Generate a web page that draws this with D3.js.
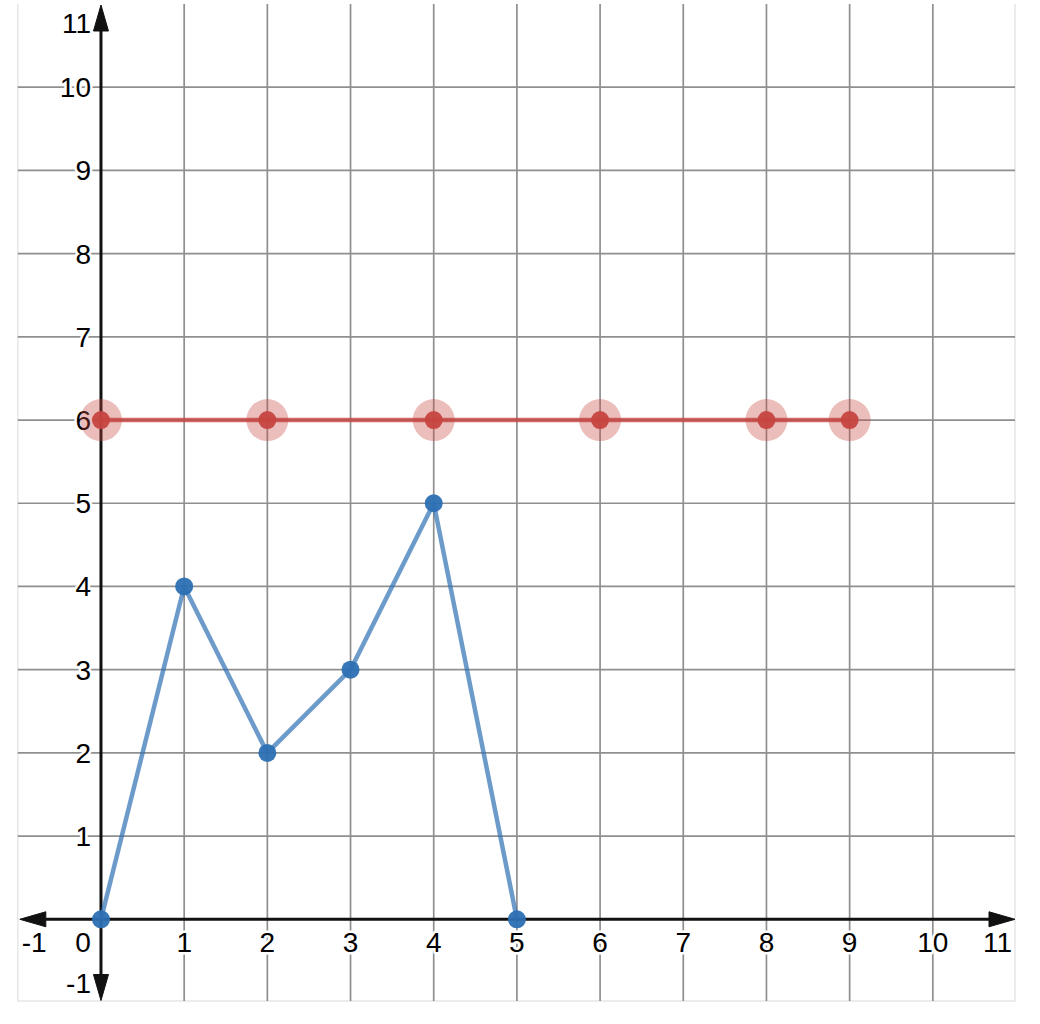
<!DOCTYPE html>
<html>
<head>
<meta charset="utf-8">
<script src="https://cdn.jsdelivr.net/npm/d3@7"></script>
<style>
  body { margin: 0; background: #fff; }
  text { font-family: Arial, "Liberation Sans", sans-serif; }
</style>
</head>
<body>
<svg id="chart" width="1040" height="1024"></svg>
<script>
// tick values on both axes
const xTicks = [-1, 0, 1, 2, 3, 4, 5, 6, 7, 8, 9, 10, 11];
const yTicks = [-1, 0, 1, 2, 3, 4, 5, 6, 7, 8, 9, 10, 11];

// blue series
const blueX = [0, 1, 2, 3, 4, 5];
const blueY = [0, 4, 2, 3, 5, 0];

// red series
const redX = [0, 2, 4, 6, 8, 9];
const redY = [6, 6, 6, 6, 6, 6];

const svg = d3.select("#chart");

let xScale = d3.scaleLinear().domain([-1, 11]).range([17.8, 1016]);
let yScale = d3.scaleLinear().domain([-1, 11]).range([1002.5, 4]);

const pLeft = xScale(-1), pRight = xScale(11);
const pTop = yScale(11), pBottom = yScale(-1);

// border of the plot area
svg.append("path")
    .attr("d", `M${pLeft},${pTop}V${pBottom - 1.5}H${pRight - 1}V${pTop}`)
    .attr("fill", "none")
    .attr("stroke", "#e6e6e6")
    .attr("stroke-width", 1.5);

// grid
let grid = svg.append("g").attr("stroke", "#8f8f8f").attr("stroke-width", 1.7);
grid.selectAll(".vx")
    .data(xTicks.filter(d => d > -1 && d < 11 && d != 0))
    .enter().append("line")
    .attr("x1", d => xScale(d)).attr("x2", d => xScale(d))
    .attr("y1", pTop).attr("y2", pBottom - 1.5);
grid.selectAll(".hy")
    .data(yTicks.filter(d => d > -1 && d < 11 && d != 0))
    .enter().append("line")
    .attr("y1", d => yScale(d)).attr("y2", d => yScale(d))
    .attr("x1", pLeft).attr("x2", pRight - 1);

const x0 = xScale(0), y0 = yScale(0);

// tick labels, kept inside the plot area
let labels = svg.append("g")
    .attr("font-size", 28)
    .attr("fill", "#000")
    .attr("stroke", "#fff")
    .attr("stroke-width", 5)
    .attr("stroke-linejoin", "round")
    .attr("paint-order", "stroke");

labels.selectAll(".xl")
    .data(xTicks.filter(d => d != 0))
    .enter().append("text")
    .attr("text-anchor", "middle")
    .attr("y", y0 + 33)
    .text(d => d)
    .attr("x", function (d) {
        let w = this.getComputedTextLength();
        return Math.max(pLeft + w / 2 + 4, Math.min(pRight - w / 2 - 4, xScale(d)));
    });

labels.append("text")
    .attr("text-anchor", "middle")
    .attr("x", x0 - 18)
    .attr("y", y0 + 33)
    .text("0");

labels.selectAll(".yl")
    .data(yTicks.filter(d => d != 0))
    .enter().append("text")
    .attr("text-anchor", "end")
    .attr("x", x0 - 10)
    .attr("y", d => Math.max(pTop + 19, Math.min(pBottom - 20, yScale(d))) + 10)
    .text(d => d);

// axes with arrowheads
const axisCol = "#111";
const aLen = 26, aHalf = 7.5;
let axes = svg.append("g");
axes.append("line")
    .attr("x1", pLeft + 2 + aLen).attr("x2", pRight - 1 - aLen)
    .attr("y1", y0).attr("y2", y0)
    .attr("stroke", axisCol).attr("stroke-width", 3);
axes.append("line")
    .attr("x1", x0).attr("x2", x0)
    .attr("y1", pTop + 1 + aLen).attr("y2", pBottom - 2 - aLen)
    .attr("stroke", axisCol).attr("stroke-width", 3);
let arrows = [
    [[pLeft + 2, y0], [pLeft + 2 + aLen, y0 - aHalf], [pLeft + 2 + aLen, y0 + aHalf]],
    [[pRight - 1, y0], [pRight - 1 - aLen, y0 - aHalf], [pRight - 1 - aLen, y0 + aHalf]],
    [[x0, pTop + 1], [x0 - aHalf, pTop + 1 + aLen], [x0 + aHalf, pTop + 1 + aLen]],
    [[x0, pBottom - 2], [x0 - aHalf, pBottom - 2 - aLen], [x0 + aHalf, pBottom - 2 - aLen]]
];
axes.selectAll("path")
    .data(arrows)
    .enter().append("path")
    .attr("d", d => "M" + d.join("L") + "Z")
    .attr("fill", axisCol)
    .attr("stroke", axisCol)
    .attr("stroke-width", 1)
    .attr("stroke-linejoin", "round");

const line = d3.line().x(d => xScale(d[0])).y(d => yScale(d[1]));

// red series
let redPts = redX.map((x, i) => [x, redY[i]]);
svg.append("path")
    .datum(redPts)
    .attr("d", line)
    .attr("fill", "none")
    .attr("stroke", "#c74440")
    .attr("stroke-opacity", 0.8)
    .attr("stroke-width", 4.5);
svg.append("g").selectAll("circle")
    .data(redPts)
    .enter().append("circle")
    .attr("cx", d => xScale(d[0])).attr("cy", d => yScale(d[1]))
    .attr("r", 21)
    .attr("fill", "#c74440")
    .attr("fill-opacity", 0.35);
svg.append("g").selectAll("circle")
    .data(redPts)
    .enter().append("circle")
    .attr("cx", d => xScale(d[0])).attr("cy", d => yScale(d[1]))
    .attr("r", 9)
    .attr("fill", "#c74440")
    .attr("fill-opacity", 0.95);

// blue series
let bluePts = blueX.map((x, i) => [x, blueY[i]]);
svg.append("path")
    .datum(bluePts)
    .attr("d", line)
    .attr("fill", "none")
    .attr("stroke", "#2d70b3")
    .attr("stroke-opacity", 0.7)
    .attr("stroke-width", 4.5)
    .attr("stroke-linejoin", "round");
svg.append("g").selectAll("circle")
    .data(bluePts)
    .enter().append("circle")
    .attr("cx", d => xScale(d[0])).attr("cy", d => yScale(d[1]))
    .attr("r", 9)
    .attr("fill", "#2d70b3")
    .attr("fill-opacity", 0.95);
</script>
</body>
</html>
